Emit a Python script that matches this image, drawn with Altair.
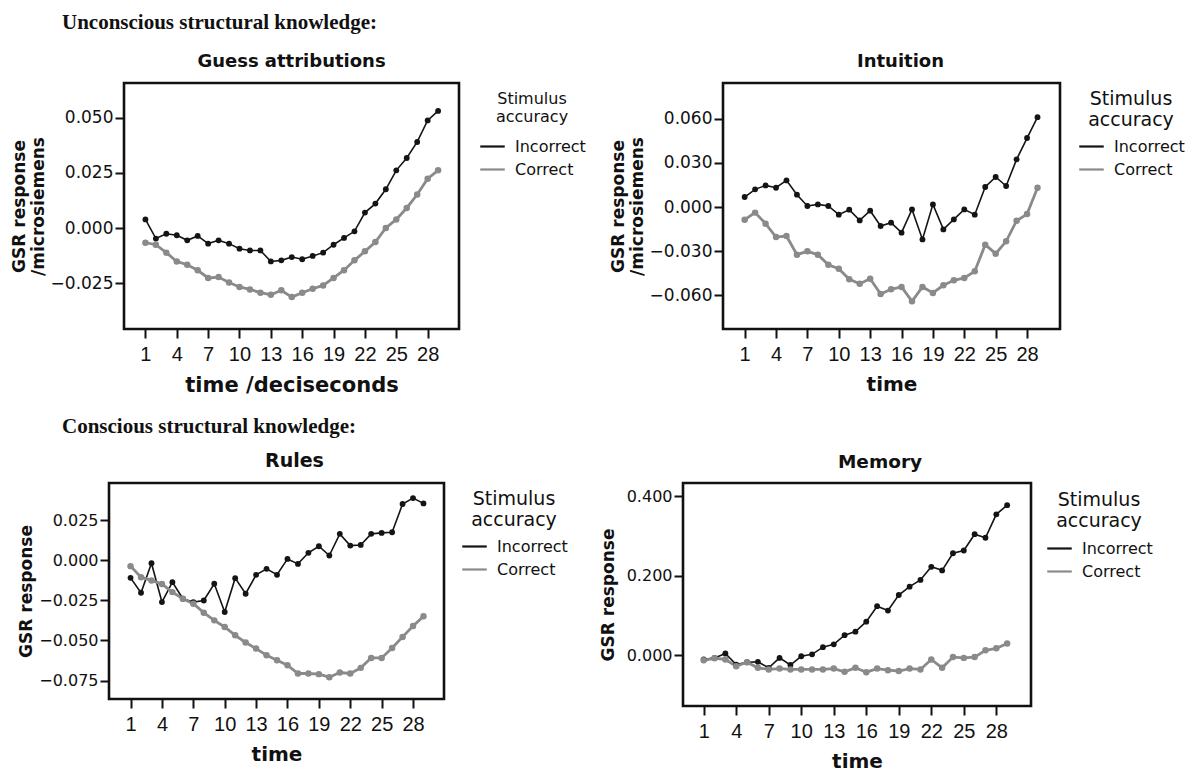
import altair as alt
import pandas as pd

TIME = list(range(1, 30))
ACC = ["Incorrect", "Correct"]
COLORS = ["#141414", "#8a8a8a"]
XTICKS = [1, 4, 7, 10, 13, 16, 19, 22, 25, 28]

HEADER_TOP = "Unconscious structural knowledge:"
HEADER_BOTTOM = "Conscious structural knowledge:"

GA_TITLE = "Guess attributions"
GA_INC = [0.0039, -0.0048, -0.0026, -0.0033, -0.0056, -0.0036, -0.0071, -0.0056, -0.0071, -0.0094,
          -0.0102, -0.0102, -0.0152, -0.0147, -0.0132, -0.0142, -0.0127, -0.0112, -0.0076, -0.0045,
          -0.0015, 0.0070, 0.0111, 0.0176, 0.0262, 0.0318, 0.0391, 0.0489, 0.0532]
GA_COR = [-0.0067, -0.0076, -0.0112, -0.0152, -0.0167, -0.0192, -0.0227, -0.0223, -0.0248, -0.0268,
          -0.0279, -0.0294, -0.0303, -0.0283, -0.0314, -0.0294, -0.0276, -0.0261, -0.0227, -0.0192,
          -0.0147, -0.0106, -0.0064, 0.0000, 0.0039, 0.0091, 0.0152, 0.0224, 0.0262]
GA_YTICKS = [-0.025, 0.0, 0.025, 0.05]

IN_TITLE = "Intuition"
IN_INC = [0.0068, 0.0120, 0.0147, 0.0131, 0.0181, 0.0084, 0.0007, 0.0018, 0.0007, -0.0052,
          -0.0018, -0.0091, -0.0025, -0.0129, -0.0106, -0.0174, -0.0016, -0.0220, 0.0018, -0.0152,
          -0.0084, -0.0016, -0.0052, 0.0136, 0.0204, 0.0143, 0.0324, 0.0469, 0.0611]
IN_COR = [-0.0086, -0.0038, -0.0113, -0.0204, -0.0197, -0.0324, -0.0301, -0.0324, -0.0392, -0.0419,
          -0.0491, -0.0521, -0.0487, -0.0591, -0.0559, -0.0543, -0.0641, -0.0543, -0.0584, -0.0532,
          -0.0498, -0.0482, -0.0437, -0.0256, -0.0317, -0.0233, -0.0093, -0.0048, 0.0131]
IN_YTICKS = [-0.06, -0.03, 0.0, 0.03, 0.06]

RU_TITLE = "Rules"
RU_INC = [-0.0110, -0.0203, -0.0019, -0.0261, -0.0137, -0.0240, -0.0261, -0.0251, -0.0147, -0.0323,
          -0.0112, -0.0209, -0.0091, -0.0054, -0.0091, 0.0008, -0.0023, 0.0046, 0.0087, 0.0029,
          0.0164, 0.0091, 0.0095, 0.0164, 0.0170, 0.0174, 0.0350, 0.0387, 0.0354]
RU_COR = [-0.0037, -0.0106, -0.0126, -0.0149, -0.0199, -0.0240, -0.0271, -0.0327, -0.0375, -0.0416,
          -0.0468, -0.0513, -0.0551, -0.0592, -0.0623, -0.0654, -0.0706, -0.0706, -0.0710, -0.0729,
          -0.0700, -0.0706, -0.0671, -0.0609, -0.0609, -0.0547, -0.0478, -0.0410, -0.0350]
RU_YTICKS = [-0.075, -0.05, -0.025, 0.0, 0.025]

ME_TITLE = "Memory"
ME_INC = [-0.011, -0.007, 0.004, -0.024, -0.018, -0.017, -0.032, -0.007, -0.025, -0.003,
          0.002, 0.020, 0.027, 0.050, 0.059, 0.084, 0.123, 0.112, 0.151, 0.172,
          0.189, 0.222, 0.213, 0.256, 0.263, 0.304, 0.295, 0.354, 0.377]
ME_COR = [-0.013, -0.008, -0.011, -0.028, -0.018, -0.032, -0.036, -0.034, -0.036, -0.036,
          -0.036, -0.036, -0.034, -0.042, -0.032, -0.043, -0.034, -0.038, -0.040, -0.034,
          -0.036, -0.011, -0.032, -0.005, -0.007, -0.005, 0.012, 0.017, 0.029]
ME_YTICKS = [0.0, 0.2, 0.4]

INK = "#111111"


def long_df(inc, cor):
    rows = []
    for t, v in zip(TIME, inc):
        rows.append({"time": t, "value": v, "acc": ACC[0]})
    for t, v in zip(TIME, cor):
        rows.append({"time": t, "value": v, "acc": ACC[1]})
    return pd.DataFrame(rows)


def panel(title, inc, cor, xdom, ydom, yticks, ytitle, xtitle, w, h,
          title_dx, title_size, ylab_size, xtitle_size, leg_title_size, leg_x, leg_y,
          ytitle_pad, leg_title_pad):
    df = long_df(inc, cor)
    x = alt.X("time:Q",
              scale=alt.Scale(domain=xdom, nice=False, zero=False),
              axis=alt.Axis(values=XTICKS, title=xtitle, titleFontSize=xtitle_size,
                            labelFont="Liberation Sans Narrow, Liberation Sans", labelFontSize=20,
                            labelPadding=6, titlePadding=10, labelOverlap=False, labelFlush=False))
    y = alt.Y("value:Q",
              scale=alt.Scale(domain=ydom, nice=False, zero=False),
              axis=alt.Axis(values=yticks, format=".3f", title=ytitle,
                            labelFont="DejaVu Sans", labelFontSize=ylab_size, labelPadding=2,
                            titleFontSize=17, titleLineHeight=19, titlePadding=ytitle_pad,
                            labelOverlap=False, labelFlush=False))
    col_scale = alt.Scale(domain=ACC, range=COLORS)
    legend = alt.Legend(title=["Stimulus", "accuracy"], orient="none",
                        legendX=leg_x, legendY=leg_y,
                        titleFont="DejaVu Sans", titleFontWeight="normal",
                        titleFontSize=leg_title_size, titleLineHeight=leg_title_size + 2,
                        titleAlign="center", titleAnchor="middle", titleColor=INK,
                        titlePadding=leg_title_pad, labelFont="DejaVu Sans", labelFontSize=16,
                        labelColor=INK, labelOffset=9, symbolType="stroke",
                        symbolSize=600, symbolStrokeWidth=2.2, rowPadding=1)
    lines = alt.Chart(df).mark_line().encode(
        x=x, y=y,
        color=alt.Color("acc:N", scale=col_scale, legend=legend),
        strokeWidth=alt.StrokeWidth("acc:N", scale=alt.Scale(domain=ACC, range=[1.6, 2.8]), legend=None),
    )
    pts = alt.Chart(df).mark_circle(opacity=1).encode(
        x=x, y=y,
        color=alt.Color("acc:N", scale=col_scale, legend=None),
        size=alt.Size("acc:N", scale=alt.Scale(domain=ACC, range=[34, 42]), legend=None),
    )
    return alt.layer(lines, pts).properties(
        width=w, height=h,
        title=alt.TitleParams(title, font="DejaVu Sans", fontWeight="bold", fontSize=title_size,
                              color=INK, anchor="middle", frame="group", dx=title_dx, offset=12),
    )


p1 = panel(GA_TITLE, GA_INC, GA_COR, [-1.05, 31.0], [-0.0459, 0.0659], GA_YTICKS,
           ["GSR response", "/microsiemens"], "time /deciseconds", 335, 246,
           0, 18, 17, 21, 16, 355, 8, 3, 8)
p2 = panel(IN_TITLE, IN_INC, IN_COR, [-1.07, 31.15], [-0.0829, 0.0843], IN_YTICKS,
           ["GSR response", "/microsiemens"], "time", 337, 246,
           9, 18, 17, 20, 19, 355, 7, 3, 3)
p3 = panel(RU_TITLE, RU_INC, RU_COR, [-1.06, 30.96], [-0.0865, 0.0481], RU_YTICKS,
           "GSR response", "time", 335, 216,
           18, 19, 16, 20, 19, 352, 7, 3, 3)
p4 = panel(ME_TITLE, ME_INC, ME_COR, [-0.91, 31.2], [-0.128, 0.4327], ME_YTICKS,
           "GSR response", "time", 348, 223,
           23, 18.5, 16, 20, 19, 363, 8, 9, 4)

spacer = alt.Chart(pd.DataFrame({"s": [0]})).mark_point(opacity=0).encode(
    x=alt.X("s:Q", axis=None), y=alt.Y("s:Q", axis=None)
).properties(width=15, height=10, view=alt.ViewBackground(stroke="transparent"))


def header(text, off):
    return alt.TitleParams(text, font="Liberation Serif", fontWeight="bold", fontSize=21,
                           color=INK, anchor="start", frame="group", dx=-47, offset=off)


inner1 = alt.hconcat(p1, p2, spacing=264, bounds="flush").resolve_scale(color="independent")
row1 = alt.hconcat(spacer, inner1, spacing=0, bounds="flush").properties(
    title=header(HEADER_TOP, 19)).resolve_scale(color="independent")
row2 = alt.hconcat(p3, p4, spacing=239, bounds="flush").properties(
    title=header(HEADER_BOTTOM, 14)).resolve_scale(color="independent")

chart = alt.vconcat(row1, row2, spacing=400, bounds="flush").properties(
    padding={"left": 8, "top": 11, "right": 5, "bottom": 5},
    background="white",
).resolve_scale(color="independent").configure_view(
    stroke=INK, strokeWidth=2.6
).configure_axis(
    domain=False, grid=False, ticks=True, tickColor=INK, tickWidth=2, tickSize=9,
    labelColor=INK, titleColor=INK, titleFont="DejaVu Sans", titleFontWeight="bold",
)

chart.save("out.html", embed_options={"renderer": "svg", "actions": False})
